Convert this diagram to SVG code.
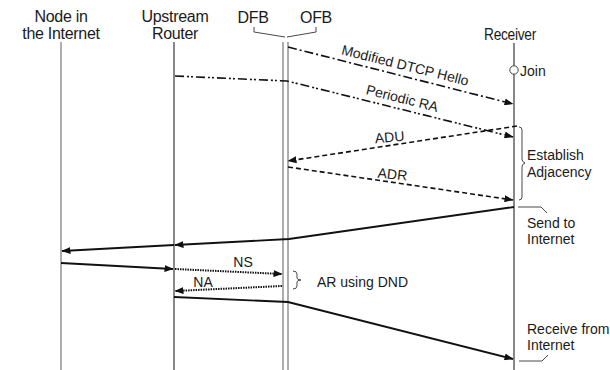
<svg xmlns="http://www.w3.org/2000/svg" width="610" height="370" viewBox="0 0 610 370">
<defs>
<marker id="ah" markerWidth="9" markerHeight="7" refX="8.5" refY="3.5" orient="auto" markerUnits="userSpaceOnUse">
<path d="M0,0 L9,3.5 L0,7 z" fill="#111"/>
</marker>
</defs>
<style>
text{font-family:"Liberation Sans",Arial,sans-serif;fill:#1a1a1a}
.hd{font-size:16px;letter-spacing:-0.3px}
.lb{font-size:14px}
.gl{stroke:#8a8a8a;stroke-width:1.4;fill:none}
.bl{stroke:#111;stroke-width:1;fill:none}
.thin{stroke:#333;stroke-width:0.9;fill:none}
.msg{fill:none;stroke:#111;stroke-width:1.6}
.dd{stroke-dasharray:9 3 2 3}
.ddd{stroke-dasharray:9 3 2 2 2 3}
.da{stroke-dasharray:5 3}
.dt{stroke-dasharray:1.5 1;stroke-width:2}
.so{stroke-width:1.9}
</style>
<rect width="610" height="370" fill="#fff"/>

<g id="node-internet">
<text class="hd" x="61" y="22" text-anchor="middle">Node in</text>
<text class="hd" x="61" y="39" text-anchor="middle">the Internet</text>
<line class="gl" x1="61" y1="42" x2="61" y2="370"/>
</g>

<g id="upstream-router">
<text class="hd" x="175" y="22" text-anchor="middle">Upstream</text>
<text class="hd" x="175" y="39" text-anchor="middle">Router</text>
<line class="bl" x1="174" y1="42" x2="174" y2="370"/>
</g>

<g id="dfb-ofb">
<text class="hd" x="253" y="23" text-anchor="middle">DFB</text>
<text class="hd" x="316" y="23" text-anchor="middle">OFB</text>
<polyline class="thin" points="254,27 254,32 285,37"/>
<polyline class="thin" points="287,37 316,32 316,27"/>
<line class="gl" x1="283" y1="42" x2="283" y2="370"/>
<line class="gl" x1="288" y1="42" x2="288" y2="370"/>
</g>

<g id="receiver">
<text class="hd" x="484" y="40" textLength="52" lengthAdjust="spacingAndGlyphs">Receiver</text>
<line class="bl" x1="514" y1="43" x2="514" y2="370"/>
<circle cx="514" cy="70" r="4.2" fill="#fff" stroke="#333" stroke-width="0.9"/>
<text class="lb" x="520" y="76">Join</text>
</g>

<g id="annotations">
<path class="thin" d="M519,127 q3,0 3,3 v29 q0,3 3,4 q-3,1 -3,4 v30 q0,3 -3,3"/>
<text class="lb" x="527" y="160">Establish</text>
<text class="lb" x="527" y="177">Adjacency</text>
<polyline class="thin" points="518,207 541,207 547,213"/>
<text class="lb" x="527" y="228">Send to</text>
<text class="lb" x="527" y="244">Internet</text>
<path class="thin" d="M293,271 q4,0 4,3 v4 q0,2 4,2 q-4,0 -4,2 v4 q0,3 -4,3"/>
<text class="lb" x="317" y="287">AR using DND</text>
<text class="lb" x="527" y="334">Receive from</text>
<text class="lb" x="527" y="350">Internet</text>
<polyline class="thin" points="519,361 542,361 548,355"/>
</g>

<g id="connectors">
<line class="msg dd" x1="288" y1="47" x2="513" y2="104" marker-end="url(#ah)"/>
<polyline class="msg ddd" points="175,76 287,81 513,137" marker-end="url(#ah)"/>
<line class="msg da" x1="517" y1="126" x2="288" y2="161" marker-end="url(#ah)"/>
<line class="msg da" x1="288" y1="167" x2="513" y2="200" marker-end="url(#ah)"/>
<polyline class="msg so" points="514,207 289,239 175,245" marker-end="url(#ah)"/>
<line class="msg so" x1="174" y1="245" x2="62" y2="251" marker-end="url(#ah)"/>
<line class="msg so" x1="61" y1="263" x2="173" y2="269" marker-end="url(#ah)"/>
<line class="msg dt" x1="175" y1="269" x2="282" y2="274" marker-end="url(#ah)"/>
<line class="msg dt" x1="282" y1="286" x2="175" y2="291" marker-end="url(#ah)"/>
<polyline class="msg so" points="174,297 288,302 513,359" marker-end="url(#ah)"/>
</g>

<g id="connector-labels">
<text class="lb" transform="translate(404,70) rotate(14)" text-anchor="middle">Modified DTCP Hello</text>
<text class="lb" transform="translate(401,103) rotate(14)" text-anchor="middle">Periodic RA</text>
<text class="lb" transform="translate(390,142) rotate(-5)" text-anchor="middle">ADU</text>
<text class="lb" transform="translate(392,179) rotate(6)" text-anchor="middle">ADR</text>
<text class="lb" x="243" y="267" text-anchor="middle">NS</text>
<text class="lb" x="203" y="287" text-anchor="middle">NA</text>
</g>
</svg>
